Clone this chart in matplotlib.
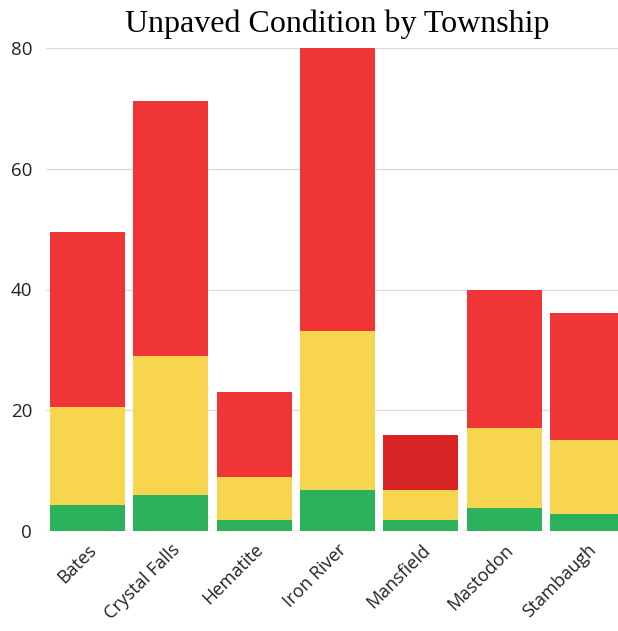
import numpy as np
import matplotlib.pyplot as plt

townships = ['Bates', 'Crystal Falls', 'Hematite', 'Iron River', 'Mansfield', 'Mastodon', 'Stambaugh']
good = [4.3, 6, 1.8, 6.8, 1.8, 3.8, 2.8]
fair = [16.2, 23, 7.1, 26.3, 5.0, 13.2, 12.2]
poor = [29.0, 42.2, 14.1, 46.9, 9.1, 22.9, 21.1]

green = '#2cb25a'
yellow = '#f8d54e'
red = '#ef3535'
red_dark = '#d92426'  # Mansfield bar looks darker (hovered)

fig = plt.figure(figsize=(6.18, 6.31), dpi=100)
ax = fig.add_axes([46/618, 100/631, 1 - 46/618, 483/631])

x = np.arange(len(townships))
w = 0.9
good = np.array(good)
fair = np.array(fair)
poor = np.array(poor)

ax.bar(x, good, w, color=green, zorder=2)
ax.bar(x, fair, w, bottom=good, color=yellow, zorder=2)
reds = [red] * len(x)
reds[4] = red_dark
ax.bar(x, poor, w, bottom=good + fair, color=reds, zorder=2)

ax.set_ylim(0, 80)
ax.set_xlim(-0.5, -0.5 + 572/83.3)
ax.set_yticks([0, 20, 40, 60, 80])
ax.yaxis.grid(True, color='#dcdcdc', linewidth=1, zorder=0)
ax.set_axisbelow(True)
for s in ax.spines.values():
    s.set_visible(False)
ax.tick_params(length=0)
ax.tick_params(axis='y', labelsize=13.5, pad=10)
ax.tick_params(axis='x', pad=7)
ax.set_xticks(x)
ax.set_xticklabels(townships, rotation=45, ha='right', rotation_mode='anchor', fontsize=13)
for lab in ax.get_xticklabels() + ax.get_yticklabels():
    lab.set_family('Open Sans')
    lab.set_color('#222222')

fig.text(0.545, 0.962, 'Unpaved Condition by Township', ha='center', va='center',
         family='Liberation Serif', fontsize=23)

fig.savefig('out.png', dpi=100)
